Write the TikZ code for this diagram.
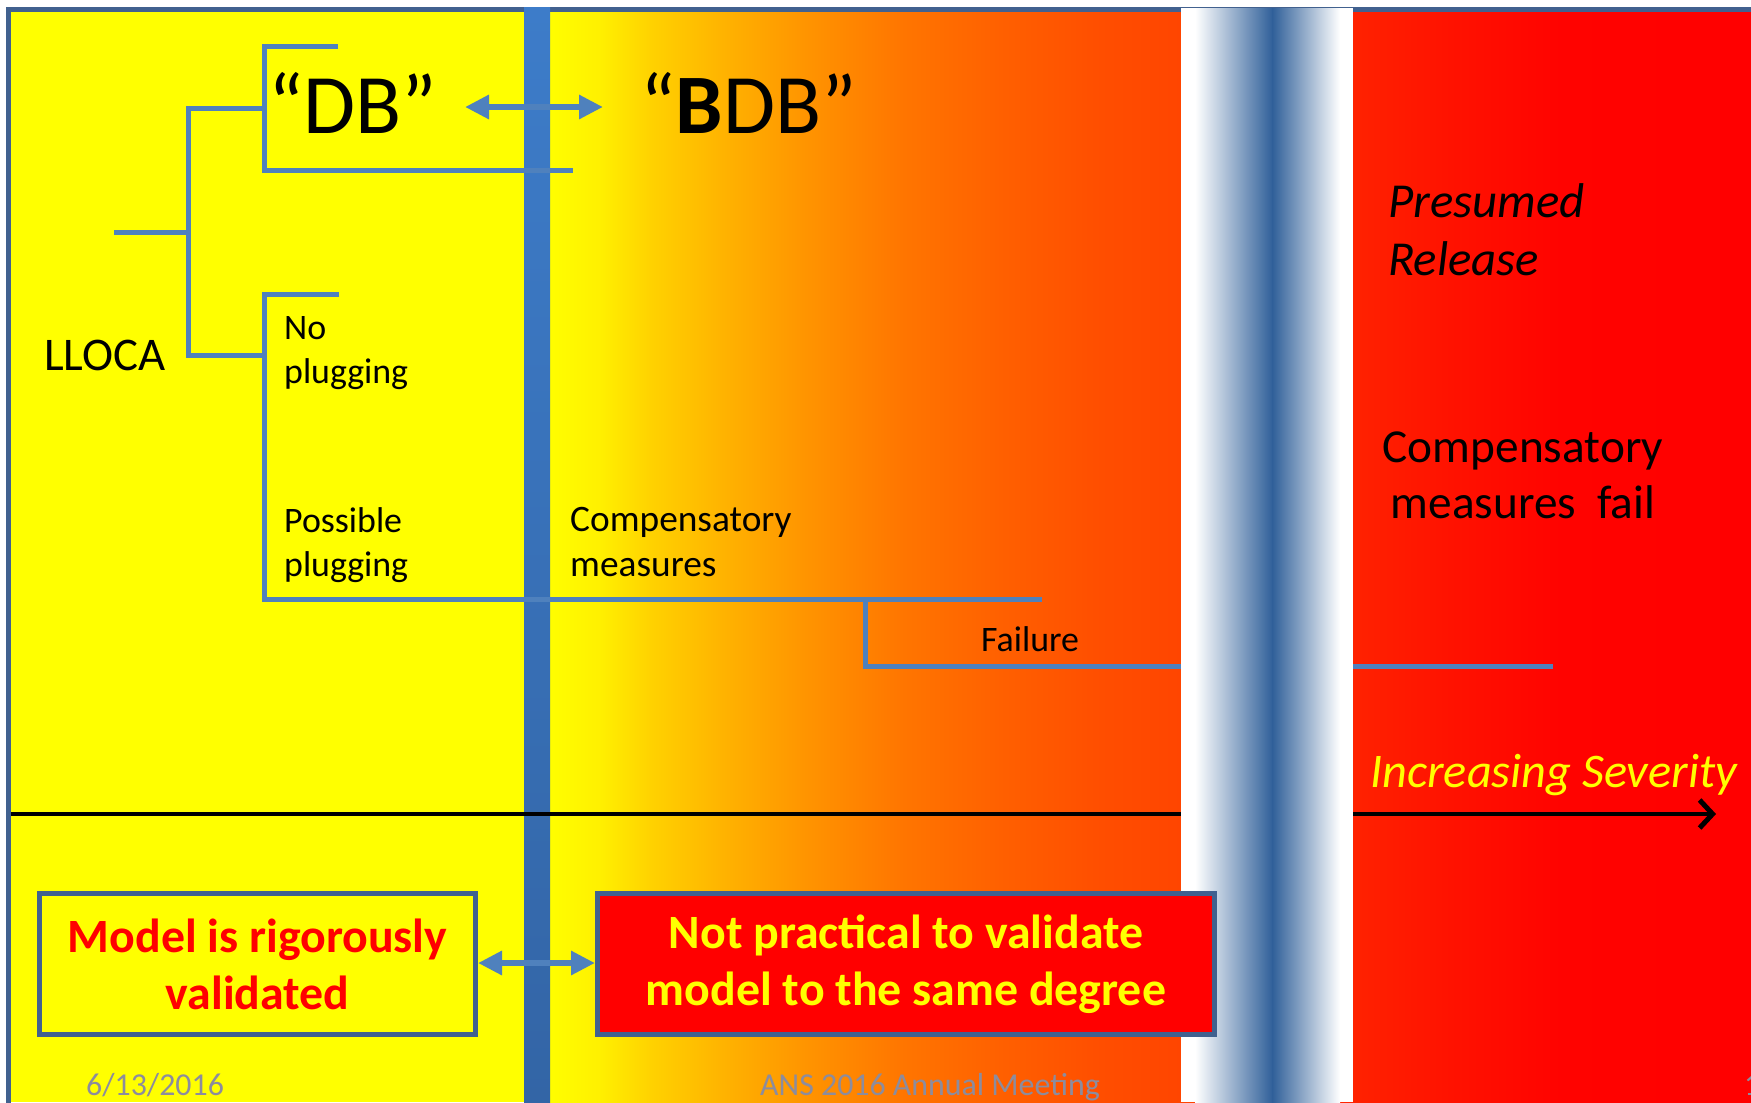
\documentclass[tikz,border=0pt]{standalone}
\usepackage{fontspec}
\setmainfont{Carlito}
\usetikzlibrary{arrows.meta}
\definecolor{tree}{HTML}{4F81BD}
\definecolor{framec}{HTML}{41618F}
\definecolor{barT}{HTML}{3D7CC9}
\definecolor{barB}{HTML}{3365A6}
\definecolor{bandblue}{HTML}{2F5F99}
\definecolor{foot}{RGB}{140,140,158}
\definecolor{g0}{HTML}{FFFF00}
\definecolor{g1}{HTML}{FFF000}
\definecolor{g2}{HTML}{FFD200}
\definecolor{g3}{HTML}{FFB400}
\definecolor{g4}{HTML}{FF9600}
\definecolor{g5}{HTML}{FF7600}
\definecolor{g6}{HTML}{FF6000}
\definecolor{g7}{HTML}{FF4E00}
\definecolor{g8}{HTML}{FF4500}
\definecolor{g9}{HTML}{FF2200}
\definecolor{g10}{HTML}{FF1200}
\definecolor{g11}{HTML}{FF0300}
\definecolor{g12}{HTML}{FF0000}
\tikzset{
  treeline/.style={tree, line width=5bp, line join=miter},
  dblarrow/.style={tree, line width=6bp, {Triangle[length=24bp,width=23bp]}-{Triangle[length=24bp,width=23bp]}},
  lbl/.style={inner sep=0pt, anchor=base west, font=\fontsize{36}{44}\selectfont, align=left},
  boxstyle/.style={draw=framec, line width=5bp, inner sep=0pt, align=center, font=\bfseries\fontsize{48}{57}\selectfont},
  foottext/.style={inner sep=0pt, anchor=base west, text=foot, font=\fontsize{32}{38}\selectfont}
}
\begin{document}
\begin{tikzpicture}[x=1bp,y=-1bp]
\useasboundingbox (0,0) rectangle (1751,1102);
\fill[white] (0,0) rectangle (1751,1102);
% background gradient
\fill[g0] (8,9) rectangle (546,1102);
\foreach \xa/\xb/\ca/\cb in {545/601/g0/g1, 600/651/g1/g2, 650/721/g2/g3, 720/801/g3/g4, 800/901/g4/g5, 900/1001/g5/g6, 1000/1101/g6/g7, 1100/1181/g7/g8, 1180/1353/g8/g9, 1352/1451/g9/g10, 1450/1561/g10/g11, 1560/1751/g11/g12}
  \shade[left color=\ca, right color=\cb] (\xa,9) rectangle (\xb,1102);
% frame
\draw[framec, line width=5bp] (8,1110) -- (8,9) -- (1760,9);
% blue bar
\shade[top color=barT, bottom color=barB] (524,7) rectangle (550,1102);
% tree coordinates
\coordinate (root) at (114,232);
\coordinate (rj) at (188,232);
\coordinate (upj) at (188,108);
\coordinate (loj) at (188,355);
\coordinate (upb) at (264,108);
\coordinate (lob) at (264,355);
\coordinate (dbstub) at (338,46);
\coordinate (dbtop) at (264,46);
\coordinate (dbbot) at (264,170);
\coordinate (dbend) at (573,170);
\coordinate (npstub) at (339,294);
\coordinate (nptop) at (264,294);
\coordinate (ppbot) at (264,599);
\coordinate (cmend) at (1042,599);
\coordinate (fj) at (865,599);
\coordinate (fbot) at (865,666);
\coordinate (fend) at (1553,666);
\draw[treeline] (root) -- (rj);
\draw[treeline] (upb) -- (upj) -- (loj) -- (lob);
\draw[treeline] (dbstub) -- (dbtop) -- (dbbot) -- (dbend);
\draw[treeline] (npstub) -- (nptop) -- (ppbot) -- (cmend);
\draw[treeline] (fj) -- (fbot) -- (fend);
% DB double arrow
\coordinate (dba) at (465,107);
\coordinate (dbb) at (603,107);
\draw[dblarrow] (dba) -- (dbb);
% axis
\coordinate (axa) at (11,814);
\coordinate (axb) at (1716,814);
\draw[black, line width=4.5bp, -{Straight Barb[length=13bp,width=28bp,line width=5bp]}] (axa) -- (axb);
% band
\fill[white] (1181,8) rectangle (1353,1102);
\shade[left color=white, right color=bandblue] (1195,8) rectangle (1273,1102);
\shade[left color=bandblue, right color=white] (1272,8) rectangle (1340,1102);
% texts
\node[lbl, font=\fontsize{85}{100}\selectfont] (db) at (268,133) {“DB”};
\node[lbl, font=\fontsize{85}{100}\selectfont] (bdb) at (640,133) {“{\bfseries B}DB”};
\node[lbl, font=\fontsize{47}{56}\selectfont] (lloca) at (44,370) {LLOCA};
\node[lbl] (nop) at (284,383) {No\\plugging};
\node[lbl] (posp) at (284,576) {Possible\\plugging};
\node[lbl, font=\fontsize{37.5}{45}\selectfont] (comp) at (570,576) {Compensatory\\measures};
\node[lbl] (fail) at (981,651) {Failure};
\node[lbl, font=\itshape\fontsize{49}{58}\selectfont] (pres) at (1388,275) {Presumed\\Release};
\node[inner sep=0pt, anchor=base, align=center, font=\fontsize{47.5}{56}\selectfont] (cfail) at (1523,518) {Compensatory\\measures\ \ fail};
\node[lbl, text=g0, font=\itshape\fontsize{48.5}{56}\selectfont] (sev) at (1370,787) {Increasing Severity};
% boxes
\node[boxstyle, fill=g0, text=red, minimum width=436bp, minimum height=141bp] (mbox) at (257.5,964) {Model is rigorously\\validated};
\node[boxstyle, fill=red, text=g0, minimum width=617bp, minimum height=141bp] (nbox) at (906,964) {Not practical to validate\\model to the same degree};
\draw[dblarrow] (mbox.east |- 0,963) -- (nbox.west |- 0,963);
% footer
\node[foottext] (date) at (86,1095) {6/13/2016};
\node[foottext, anchor=base] (meet) at (930,1095) {ANS 2016 Annual Meeting};
\node[foottext] (pg) at (1744,1095) {1};
\end{tikzpicture}
\end{document}
